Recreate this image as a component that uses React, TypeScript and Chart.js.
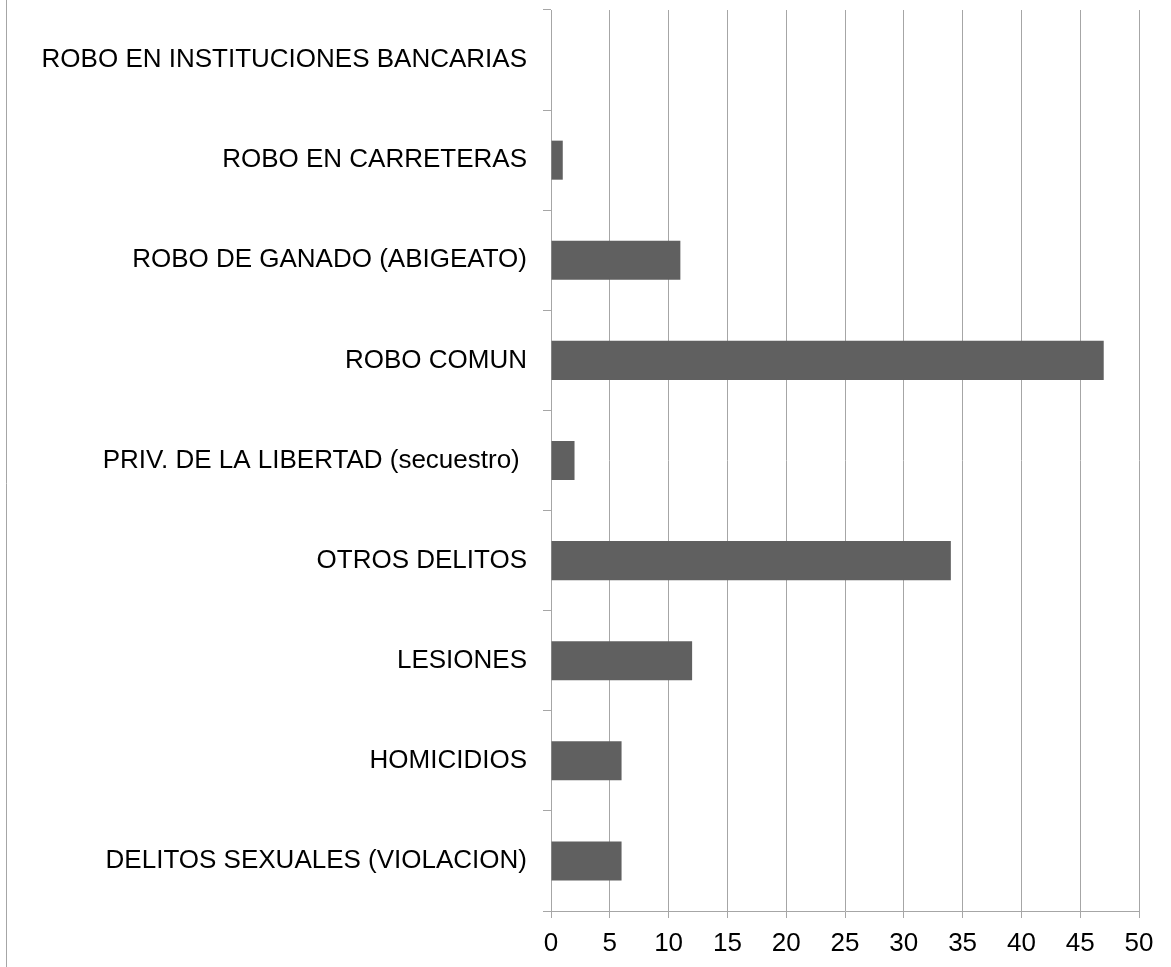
import React, { useEffect, useRef } from "react";
import { Chart, registerables } from "chart.js";

Chart.register(...registerables);

const categories = [
  "ROBO EN INSTITUCIONES BANCARIAS",
  "ROBO EN CARRETERAS",
  "ROBO DE GANADO (ABIGEATO)",
  "ROBO COMUN",
  "PRIV. DE LA LIBERTAD (secuestro) ",
  "OTROS DELITOS",
  "LESIONES",
  "HOMICIDIOS",
  "DELITOS SEXUALES (VIOLACION)",
];
const values = [0, 1, 11, 47, 2, 34, 12, 6, 6];
const xMin = 0;
const xMax = 50;
const xStep = 5;

const FONT = "'Liberation Sans', Arial, sans-serif";
const GRID = "#a6a6a6";

export default function App() {
  const ref = useRef<HTMLCanvasElement | null>(null);
  useEffect(() => {
    if (!ref.current) return;
    const leftBorder = {
      id: "leftBorder",
      afterDraw(chart: any) {
        const ctx = chart.ctx;
        ctx.save();
        ctx.strokeStyle = GRID;
        ctx.lineWidth = 1;
        ctx.beginPath();
        ctx.moveTo(6.5, 0);
        ctx.lineTo(6.5, chart.height);
        ctx.stroke();
        ctx.restore();
      },
    };
    const chart = new Chart(ref.current, {
      type: "bar",
      data: {
        labels: categories,
        datasets: [
          {
            data: values,
            backgroundColor: "#606060",
            barPercentage: 0.39,
            categoryPercentage: 1,
          },
        ],
      },
      options: {
        indexAxis: "y",
        animation: false,
        responsive: false,
        maintainAspectRatio: false,
        layout: { padding: { top: 10, right: 32, left: 0, bottom: 0 } },
        plugins: { legend: { display: false }, tooltip: { enabled: false } },
        scales: {
          x: {
            min: xMin,
            max: xMax,
            ticks: {
              stepSize: xStep,
              color: "#000",
              font: { family: FONT, size: 26 },
              padding: 10,
              maxRotation: 0,
            },
            grid: {
              color: GRID,
              lineWidth: 1,
              drawTicks: true,
              tickLength: 7,
            },
            border: { color: GRID, width: 1 },
            afterFit(scale: any) {
              scale.height = 56;
            },
          },
          y: {
            ticks: {
              color: "#000",
              font: { family: FONT, size: 26 },
              padding: 16,
              autoSkip: false,
            },
            grid: {
              drawOnChartArea: false,
              drawTicks: true,
              tickLength: 8,
              color: GRID,
              offset: true,
            },
            border: { color: GRID, width: 1 },
            afterFit(scale: any) {
              scale.width = 551;
              scale.paddingTop = 0;
              scale.paddingBottom = 0;
            },
          },
        },
      },
      plugins: [leftBorder],
    });
    return () => chart.destroy();
  }, []);
  return (
    <div style={{ position: "absolute", left: 0, top: 0, width: 1171, height: 967, background: "#fff" }}>
      <canvas ref={ref} width={1171} height={967} style={{ width: 1171, height: 967 }} />
    </div>
  );
}
